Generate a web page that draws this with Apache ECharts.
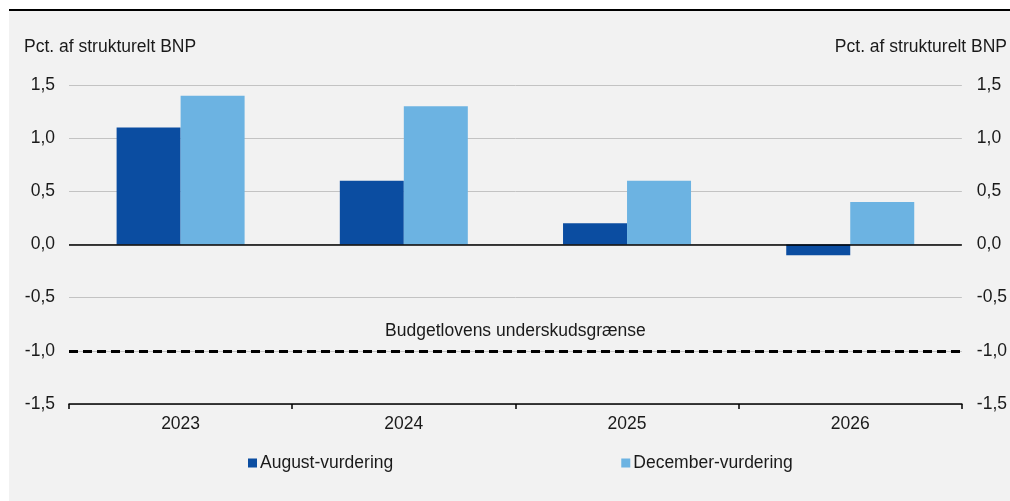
<!DOCTYPE html>
<html>
<head>
<meta charset="utf-8">
<script src="https://cdn.jsdelivr.net/npm/echarts@6/dist/echarts.min.js"></script>
<style>
  html, body { margin: 0; padding: 0; background: #ffffff; }
  #panel { position: absolute; left: 9px; top: 11px; width: 1001px; height: 490px; background: #f2f2f2; }
  #topline { position: absolute; left: 9px; top: 9px; width: 1001px; height: 2px; background: #000000; }
  #chart { position: absolute; left: 0; top: 0; width: 1010px; height: 501px; }
</style>
</head>
<body>
<div id="panel"></div>
<div id="topline"></div>
<div id="chart"></div>
<script>
const categories = ['2023', '2024', '2025', '2026'];
const augustValues = [1.1, 0.6, 0.2, -0.1];
const decemberValues = [1.4, 1.3, 0.6, 0.4];
const seriesNames = ['August-vurdering', 'December-vurdering'];
const deficitLimit = [-1.0];
const limitLabel = ['Budgetlovens underskudsgrænse'];
const axisTitle = ['Pct. af strukturelt BNP'];
const yRange = [-1.5, 1.5, 0.5];

const FONT = 'Liberation Sans, Arial, sans-serif';
const TXT = '#1a1a1a';
const FS = 17.5;
const fmt = v => v.toFixed(1).replace('.', ',');

const chart = echarts.init(document.getElementById('chart'), null, { renderer: 'canvas' });
chart.setOption({
  backgroundColor: 'transparent',
  animation: false,
  textStyle: { fontFamily: FONT, color: TXT },
  grid: { left: 69, right: 48, top: 85, bottom: 97, containLabel: false },
  graphic: [
    { type: 'text', left: 24, top: 38, style: { text: axisTitle[0], font: FS + 'px ' + FONT, fill: TXT } },
    { type: 'text', right: 3, top: 38, style: { text: axisTitle[0], font: FS + 'px ' + FONT, fill: TXT } }
  ],
  legend: {
    left: 243, top: 449,
    itemWidth: 9, itemHeight: 9, itemGap: 228,
    icon: 'rect',
    textStyle: { fontFamily: FONT, fontSize: FS, color: TXT, padding: [0, 0, 0, -2] },
    data: seriesNames
  },
  xAxis: {
    type: 'category',
    data: categories,
    position: 'bottom',
    axisLine: { onZero: false, lineStyle: { color: '#000', width: 1.5 } },
    axisTick: { show: true, length: 5, lineStyle: { color: '#000', width: 1.5 } },
    axisLabel: { fontFamily: FONT, fontSize: FS, color: TXT, margin: 11 },
    splitLine: { show: false }
  },
  yAxis: [
    {
      type: 'value', min: yRange[0], max: yRange[1], interval: yRange[2], position: 'left',
      axisLine: { show: false }, axisTick: { show: false },
      axisLabel: { formatter: fmt, fontFamily: FONT, fontSize: FS, color: TXT, margin: 14 },
      splitLine: { show: true, lineStyle: { color: '#c3c3c3', width: 1 } }
    },
    {
      type: 'value', min: yRange[0], max: yRange[1], interval: yRange[2], position: 'right',
      axisLine: { show: false }, axisTick: { show: false },
      axisLabel: { formatter: fmt, fontFamily: FONT, fontSize: FS, color: TXT, margin: 15 },
      splitLine: { show: false }
    }
  ],
  series: [
    {
      name: seriesNames[0], type: 'bar', data: augustValues,
      barWidth: 64, barGap: '0%',
      itemStyle: { color: '#0b4da1' }
    },
    {
      name: seriesNames[1], type: 'bar', data: decemberValues,
      barWidth: 64, barGap: '0%',
      itemStyle: { color: '#6cb3e2' },
      markLine: {
        silent: true, symbol: ['none', 'none'], z: 10,
        data: [
          { yAxis: 0, lineStyle: { color: '#000', width: 1.5, type: 'solid' }, label: { show: false } },
          {
            yAxis: deficitLimit[0],
            lineStyle: { color: '#000', width: 3, type: [9, 5] },
            label: {
              show: true, position: 'middle', formatter: limitLabel[0], distance: 11,
              fontFamily: FONT, fontSize: FS, color: TXT
            }
          }
        ]
      }
    }
  ]
});
</script>
</body>
</html>
